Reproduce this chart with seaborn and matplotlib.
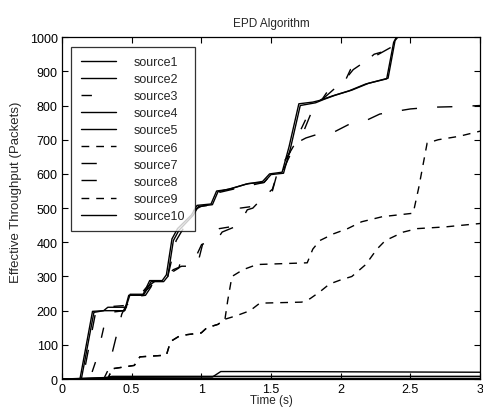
import matplotlib
matplotlib.use("Agg")
import matplotlib.pyplot as plt
import seaborn as sns

# ---- data ----
labels = ["source1", "source2", "source3", "source4", "source5",
          "source6", "source7", "source8", "source9", "source10"]

t1 = [0, 0.3, 3.0]
v1 = [0, 2, 2]

t2 = [0, 0.35, 1.08, 1.14, 1.4, 3.0]
v2 = [0, 5, 6, 22, 22, 20]

t3 = [0, 0.20, 0.25, 0.30, 0.35, 0.45, 0.52, 0.58, 0.66, 0.72, 0.78, 0.84, 0.86,
      0.97, 1.01, 1.08, 1.13, 1.25, 1.28, 1.37, 1.44, 1.51, 1.56, 1.62, 1.68,
      1.75, 1.80, 1.87, 1.92, 2.03, 2.07, 2.17, 2.24, 2.37, 2.42]
v3 = [0, 0, 60, 150, 212, 215, 230, 250, 280, 295, 310, 325, 360,
      365, 400, 405, 440, 448, 500, 505, 530, 555, 620, 650, 700,
      760, 800, 820, 850, 870, 905, 925, 950, 965, 1000]

t4 = [0, 0.13, 0.22, 0.30, 0.45, 0.48, 0.58, 0.63, 0.72, 0.75, 0.79, 0.83, 0.93,
      0.97, 1.07, 1.11, 1.20, 1.32, 1.44, 1.49, 1.58, 1.63, 1.70, 1.80, 1.85,
      1.94, 2.06, 2.18, 2.33, 2.38, 2.40]
v4 = [0, 0, 198, 200, 200, 245, 245, 288, 288, 305, 410, 440, 480,
      508, 512, 550, 555, 570, 578, 600, 605, 680, 805, 810, 815,
      828, 843, 863, 878, 985, 1000]

t5 = [0, 0.14, 0.23, 0.30, 0.33, 0.46, 0.49, 0.59, 0.64, 0.73, 0.76, 0.80, 0.84,
      0.94, 0.98, 1.08, 1.12, 1.22, 1.34, 1.45, 1.50, 1.59, 1.64, 1.71, 1.82,
      1.88, 1.96, 2.08, 2.20, 2.34, 2.39, 2.41]
v5 = [0, 0, 195, 200, 210, 210, 248, 248, 285, 285, 300, 405, 435,
      478, 505, 510, 548, 558, 572, 575, 598, 602, 675, 800, 808,
      818, 830, 845, 865, 880, 990, 1000]

t6 = [0, 0.33, 0.36, 0.52, 0.56, 0.75, 0.78, 0.84, 0.90, 1.00, 1.04, 1.12, 1.17,
      1.25, 1.35, 1.42, 1.72, 1.78, 1.85, 1.92, 2.00, 2.08, 2.18, 2.26, 2.32,
      2.45, 2.55, 2.75, 3.0]
v6 = [0, 0, 30, 40, 65, 70, 110, 125, 130, 135, 150, 160, 175,
      185, 200, 222, 225, 235, 255, 278, 290, 300, 335, 380, 405,
      430, 440, 445, 455]

t7 = [0, 0.15, 0.24, 0.45, 0.50, 0.60, 0.66, 0.72, 0.76, 0.82, 0.95, 1.00, 1.08,
      1.12, 1.30, 1.45, 1.50, 1.58, 1.62, 1.68, 1.75, 1.85, 1.95, 2.06, 2.15,
      2.28, 2.35, 2.50, 2.65, 2.85, 3.0]
v7 = [0, 0, 190, 200, 240, 245, 282, 285, 300, 405, 495, 505, 510,
      545, 562, 575, 598, 603, 640, 690, 705, 718, 722, 745, 750,
      775, 780, 790, 795, 797, 800]

t8 = [0, 0.30, 0.33, 0.43, 0.46, 0.55, 0.60, 0.68, 0.74, 0.80, 0.86, 0.90, 0.97,
      1.01, 1.10, 1.15, 1.27, 1.33, 1.37, 1.44, 1.51, 1.55, 1.61, 1.66, 1.73,
      1.79, 1.86, 1.93, 2.04, 2.09, 2.18, 2.25, 2.36, 2.41]
v8 = [0, 0, 25, 190, 215, 240, 265, 290, 300, 320, 330, 330, 330,
      395, 400, 430, 450, 495, 500, 530, 550, 610, 645, 680, 720,
      780, 815, 840, 880, 905, 930, 945, 970, 1000]

t9 = [0, 0.33, 0.36, 0.52, 0.56, 0.75, 0.78, 0.84, 0.90, 1.00, 1.04, 1.12, 1.17,
      1.19, 1.22, 1.30, 1.40, 1.76, 1.80, 1.85, 1.95, 2.05, 2.15, 2.30, 2.52,
      2.56, 2.62, 2.70, 2.85, 3.0]
v9 = [0, 0, 30, 40, 65, 70, 110, 125, 130, 135, 150, 160, 175,
      230, 300, 320, 335, 340, 380, 405, 425, 440, 460, 475, 485,
      560, 690, 700, 710, 725]

t10 = [0, 0.3, 0.36, 3.0]
v10 = [0, 3, 8, 8]

series_t = [t1, t2, t3, t4, t5, t6, t7, t8, t9, t10]
series_v = [v1, v2, v3, v4, v5, v6, v7, v8, v9, v10]

# ---- styles ----
lw = 1.0
solid = "-"
longdash = (0, (11.0, 14.5))
longdash3 = (0, (7.5, 18.0))
shortdash = (0, (5.6, 5.0))
styles = [solid, solid, longdash3, solid, solid,
          shortdash, longdash, longdash, shortdash, solid]

sns.set_style("white")
plt.rcParams["font.family"] = ["Liberation Sans", "DejaVu Sans"]

fig = plt.figure(figsize=(4.83, 4.10), dpi=100)
ax = fig.add_axes([0.128, 0.073, 0.866, 0.834])

for t, v, lab, ls in zip(series_t, series_v, labels, styles):
    sns.lineplot(x=t, y=v, ax=ax, color="black", linewidth=lw,
                 linestyle=ls, label=lab, estimator=None, sort=False)

ax.set_xlim(0, 3)
ax.set_ylim(0, 1000)
ax.set_xticks([0, 0.5, 1, 1.5, 2, 2.5, 3])
ax.set_xticklabels(["0", "0.5", "1", "1.5", "2", "2.5", "3"])
ax.set_yticks(range(0, 1001, 100))
ax.tick_params(direction="in", length=4, width=0.8, labelsize=9,
               top=True, right=True, bottom=True, left=True, pad=3,
               colors="black")
for s in ax.spines.values():
    s.set_visible(True)
    s.set_color("black")
    s.set_linewidth(0.9)

ax.set_title("EPD Algorithm", fontsize=8.5, pad=8)
ax.set_xlabel("Time (s)", fontsize=8.5, labelpad=-1)
ax.set_ylabel("Effective Throughput (Packets)", fontsize=9.5, labelpad=4)
ax.yaxis.set_label_coords(-0.095, 0.55)

leg = ax.legend(loc="upper left", fontsize=9, frameon=True, fancybox=False,
                edgecolor="black", handlelength=2.8, handletextpad=1.45,
                labelspacing=0.41, borderpad=0.75, borderaxespad=0.75)
leg.get_frame().set_linewidth(0.9)

fig.savefig("out.png", dpi=100)
